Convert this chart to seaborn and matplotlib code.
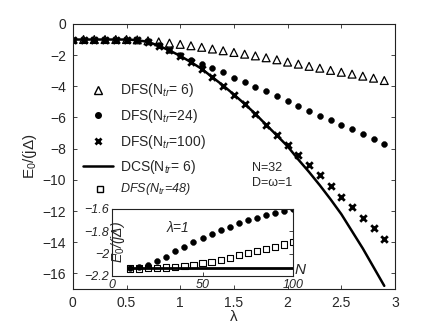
import numpy as np
import pandas as pd
import matplotlib
matplotlib.use("Agg")
import matplotlib.pyplot as plt
import seaborn as sns
from matplotlib.lines import Line2D

# === data ===
lam = [0.0, 0.1, 0.2, 0.3, 0.4, 0.5, 0.6, 0.7, 0.8, 0.9,
       1.0, 1.1, 1.2, 1.3, 1.4, 1.5, 1.6, 1.7, 1.8, 1.9,
       2.0, 2.1, 2.2, 2.3, 2.4, 2.5, 2.6, 2.7, 2.8, 2.9]

dfs6 = [-1.0, -1.0, -1.0, -1.0, -1.0, -1.0, -1.02, -1.08, -1.15, -1.23,
        -1.31, -1.40, -1.50, -1.61, -1.72, -1.83, -1.94, -2.05, -2.17, -2.30,
        -2.45, -2.58, -2.72, -2.84, -2.98, -3.10, -3.22, -3.35, -3.48, -3.63]

dfs24 = [-1.0, -1.0, -1.0, -1.0, -1.0, -1.0, -1.03, -1.12, -1.35, -1.65,
         -1.99, -2.29, -2.54, -2.84, -3.10, -3.44, -3.70, -4.02, -4.31, -4.60,
         -4.92, -5.28, -5.56, -5.88, -6.15, -6.47, -6.73, -7.05, -7.37, -7.69]

dfs100 = [-1.0, -1.0, -1.0, -1.0, -1.0, -1.0, -1.04, -1.15, -1.40, -1.70,
          -2.05, -2.45, -2.88, -3.42, -3.95, -4.53, -5.13, -5.77, -6.47, -7.12,
          -7.76, -8.38, -9.04, -9.72, -10.40, -11.07, -11.75, -12.44, -13.10, -13.78]

dcs6 = [-1.0, -1.0, -1.0, -1.0, -1.0, -1.0, -1.04, -1.15, -1.40, -1.70,
        -2.05, -2.45, -2.88, -3.42, -3.95, -4.53, -5.13, -5.77, -6.47, -7.15,
        -7.85, -8.70, -9.50, -10.35, -11.25, -12.20, -13.30, -14.40, -15.60, -16.80]

# inset (lambda = 1, N = 32)
n_tr = [10, 15, 20, 25, 30, 35, 40, 45, 50, 55,
        60, 65, 70, 75, 80, 85, 90, 95, 100]
inset_dots = [-2.13, -2.125, -2.10, -2.066, -2.027, -1.98, -1.94, -1.90, -1.86, -1.827,
              -1.79, -1.76, -1.73, -1.70, -1.678, -1.657, -1.64, -1.615, -1.60]
inset_sq = [-2.135, -2.135, -2.13, -2.13, -2.125, -2.12, -2.11, -2.10, -2.085, -2.073,
            -2.059, -2.037, -2.014, -1.993, -1.979, -1.957, -1.939, -1.919, -1.898]
inset_line = [-2.13] * len(n_tr)

main = pd.DataFrame({"lam": lam, "dfs6": dfs6, "dfs24": dfs24,
                     "dfs100": dfs100, "dcs6": dcs6})
ins = pd.DataFrame({"N": n_tr, "dots": inset_dots, "sq": inset_sq, "line": inset_line})

sns.set_style("ticks")
plt.rcParams["font.family"] = ["Liberation Sans", "DejaVu Sans"]
plt.rcParams["mathtext.fontset"] = "custom"
plt.rcParams["mathtext.rm"] = "Liberation Sans"
plt.rcParams["mathtext.it"] = "Liberation Sans:italic"

fig = plt.figure(figsize=(4.36, 3.28), dpi=100)
ax = fig.add_axes([0.167, 0.119, 0.739, 0.808])

sns.lineplot(data=main, x="lam", y="dcs6", ax=ax, color="black", linewidth=1.8)
sns.scatterplot(data=main, x="lam", y="dfs6", ax=ax, marker="^", s=32,
                facecolor="none", edgecolor="black", linewidth=0.9)
sns.scatterplot(data=main, x="lam", y="dfs24", ax=ax, marker="o", s=18,
                color="black", edgecolor="black")
sns.scatterplot(data=main, x="lam", y="dfs100", ax=ax, marker="x", s=22,
                color="black", linewidth=2)

ax.set_xlim(0, 3)
ax.set_ylim(-17, 0)
ax.set_xticks([0, 0.5, 1, 1.5, 2, 2.5, 3])
ax.set_xticklabels(["0", "0.5", "1", "1.5", "2", "2.5", "3"])
ax.set_yticks([0, -2, -4, -6, -8, -10, -12, -14, -16])
ax.set_yticklabels(["0", "\u22122", "\u22124", "\u22126", "\u22128", "\u221210",
                    "\u221212", "\u221214", "\u221216"])
ax.tick_params(direction="in", length=3, width=0.6, top=True, right=True,
               labelsize=10, pad=5)
for sp in ax.spines.values():
    sp.set_linewidth(0.8)
    sp.set_color("#222222")
ax.set_xlabel("\u03bb", fontsize=11, labelpad=0)
ax.set_ylabel("E$_0$/(j\u0394)", fontsize=11, labelpad=2)

handles = [
    Line2D([], [], marker="^", linestyle="none", markerfacecolor="none",
           markeredgecolor="black", markersize=6),
    Line2D([], [], marker="o", linestyle="none", color="black", markersize=4),
    Line2D([], [], marker="x", linestyle="none", color="black", markersize=5,
           markeredgewidth=2),
    Line2D([], [], color="black", linewidth=1.8),
]
labels = ["DFS(N$_{tr}$= 6)", "DFS(N$_{tr}$=24)", "DFS(N$_{tr}$=100)", "DCS(N$_{tr}$= 6)"]
ax.legend(handles, labels, loc="upper left", bbox_to_anchor=(0.0, 0.82),
          frameon=False, fontsize=10, labelspacing=0.55, handlelength=2.2,
          handletextpad=0.5, borderaxespad=0.3)

# extra legend row for the inset squares
ax.plot([0.085], [0.378], transform=ax.transAxes, marker="s", markersize=5,
        markerfacecolor="none", markeredgecolor="black", linestyle="none")
ax.text(0.145, 0.378, "DFS(N$_{tr}$=48)", transform=ax.transAxes, fontsize=9,
        style="italic", va="center", ha="left")

ax.text(0.555, 0.455, "N=32", transform=ax.transAxes, fontsize=9, va="center")
ax.text(0.555, 0.398, "D=\u03c9=1", transform=ax.transAxes, fontsize=9, va="center")

# inset
ax_in = fig.add_axes([0.257, 0.159, 0.415, 0.204])
sns.lineplot(data=ins, x="N", y="line", ax=ax_in, color="black", linewidth=2)
sns.scatterplot(data=ins, x="N", y="dots", ax=ax_in, marker="o", s=18,
                color="black", edgecolor="black")
sns.scatterplot(data=ins, x="N", y="sq", ax=ax_in, marker="s", s=20,
                facecolor="none", edgecolor="black", linewidth=0.8)
ax_in.set_xlim(0, 100)
ax_in.set_ylim(-2.2, -1.6)
ax_in.set_xticks([0, 50, 100])
ax_in.set_yticks([-2.2, -2.0, -1.8, -1.6])
ax_in.set_yticklabels(["\u22122.2", "\u22122", "\u22121.8", "\u22121.6"],
                      style="italic")
ax_in.set_xticklabels(["0", "50", "100"], style="italic")
ax_in.tick_params(direction="in", length=3, width=0.6, right=True, top=False,
                  labelsize=9, pad=2)
for sp in ax_in.spines.values():
    sp.set_linewidth(0.8)
    sp.set_color("#222222")
ax_in.set_xlabel("")
ax_in.set_ylabel("E$_0$/(j\u0394)", fontsize=10, style="italic")
ax_in.yaxis.set_label_coords(0.08, 0.5)
ax_in.text(1.01, 0.08, "N", transform=ax_in.transAxes, fontsize=11,
           style="italic", ha="left", va="center")
ax_in.text(0.3, 0.72, "\u03bb=1", transform=ax_in.transAxes, fontsize=10,
           style="italic", ha="left", va="center")

fig.savefig("out.png", dpi=100)
